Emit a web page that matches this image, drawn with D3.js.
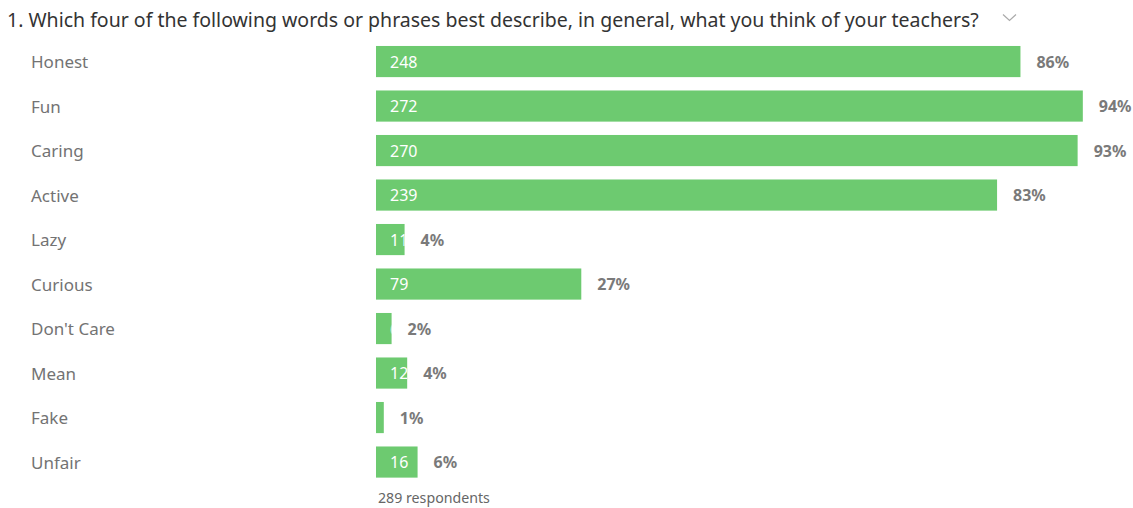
<!DOCTYPE html>
<html>
<head>
<meta charset="utf-8">
<script src="https://cdn.jsdelivr.net/npm/d3@7"></script>
<style>
  html, body { margin: 0; padding: 0; background: #fff; }
  svg { display: block; }
</style>
</head>
<body>
<svg id="chart" width="1133" height="508"></svg>
<script>
// Survey question and answer counts
const title = "1. Which four of the following words or phrases best describe, in general, what you think of your teachers?";
const categories = ["Honest", "Fun", "Caring", "Active", "Lazy", "Curious", "Don't Care", "Mean", "Fake", "Unfair"];
const counts = [248, 272, 270, 239, 11, 79, 6, 12, 3, 16];
const respondents = 289;

const svg = d3.select("#chart");
const font = "'Noto Sans', 'Open Sans', sans-serif";
const barColor = "#6dca70";

const rows = categories.map((c, i) => ({ label: c, value: counts[i] }));

const x = d3.scaleLinear().domain([0, respondents]).range([376, 1127]);
const y = d3.scaleBand()
  .domain(categories)
  .range([39.3, 39.3 + categories.length * 44.5])
  .paddingInner(0.3)
  .paddingOuter(0.15);

// Question heading
svg.append("text")
  .attr("x", 7).attr("y", 19.5)
  .attr("dominant-baseline", "central")
  .attr("font-family", font).attr("font-size", 19.5)
  .attr("fill", "#333")
  .text(title);

// Collapse chevron
svg.append("path")
  .attr("d", "M1003,14.5 L1009.5,20.5 L1016,14.5")
  .attr("fill", "none")
  .attr("stroke", "#aaa")
  .attr("stroke-width", 1.2);

// Category labels
svg.append("g").selectAll("text")
  .data(rows).join("text")
  .attr("x", 31)
  .attr("y", d => y(d.label) + y.bandwidth() / 2)
  .attr("dominant-baseline", "central")
  .attr("font-family", font).attr("font-size", 17)
  .attr("fill", "#737373")
  .text(d => d.label);

const defs = svg.append("defs");
defs.selectAll("clipPath")
  .data(rows).join("clipPath")
  .attr("id", (d, i) => "clip" + i)
  .append("rect")
  .attr("x", x(0))
  .attr("y", d => y(d.label))
  .attr("width", d => x(d.value) - x(0))
  .attr("height", y.bandwidth());

// Bars
svg.append("g").selectAll("rect")
  .data(rows).join("rect")
  .attr("x", x(0))
  .attr("y", d => y(d.label))
  .attr("width", d => x(d.value) - x(0))
  .attr("height", y.bandwidth())
  .attr("fill", barColor);

// Counts inside bars, clipped to the bar
svg.append("g").selectAll("text")
  .data(rows).join("text")
  .attr("clip-path", (d, i) => `url(#clip${i})`)
  .attr("x", x(0) + 14)
  .attr("y", d => y(d.label) + y.bandwidth() / 2)
  .attr("dominant-baseline", "central")
  .attr("font-family", font).attr("font-size", 16)
  .attr("fill", "#fff")
  .text(d => d.value);

// Percentages after bars
const pct = d3.format(".0%");
svg.append("g").selectAll("text")
  .data(rows).join("text")
  .attr("x", d => x(d.value) + 16)
  .attr("y", d => y(d.label) + y.bandwidth() / 2)
  .attr("dominant-baseline", "central")
  .attr("font-family", font).attr("font-size", 16)
  .attr("font-weight", "bold")
  .attr("fill", "#7a7a7a")
  .text(d => pct(d.value / respondents));

// Respondent count
svg.append("text")
  .attr("x", 378).attr("y", 497)
  .attr("dominant-baseline", "central")
  .attr("font-family", font).attr("font-size", 14.2)
  .attr("fill", "#666")
  .text(respondents + " respondents");
</script>
</body>
</html>
